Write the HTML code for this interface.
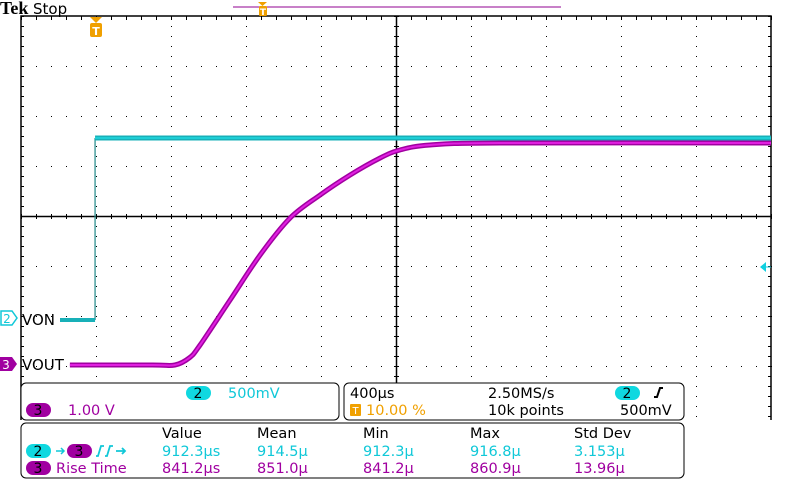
<!DOCTYPE html>
<html><head><meta charset="utf-8"><style>
body{margin:0;background:#fff;width:800px;height:480px;overflow:hidden;font-family:"DejaVu Sans","Liberation Sans",sans-serif;}
svg{position:absolute;left:0;top:0}
</style></head><body>
<svg width="800" height="480" xmlns="http://www.w3.org/2000/svg" font-family="DejaVu Sans, Liberation Sans, sans-serif">
<g id="grid"></g>
<g id="traces"></g>
<text x="0" y="14" font-family="Liberation Serif" font-weight="bold" font-size="18">Tek</text>
<text x="33" y="14" font-size="15">Stop</text>
<line x1="233" y1="7" x2="561" y2="7" stroke="#900090" stroke-width="1"/>
<g><path d="M258 2h9l-4.5 4z" fill="#f0a000"/><rect x="259" y="6" width="8" height="10" rx="1" fill="#f0a000"/><text x="263" y="15" font-size="9" fill="#fff" text-anchor="middle" font-weight="bold">T</text></g>
<g><path d="M90 17h12l-6 6z" fill="#f0a000"/><rect x="90" y="23" width="12" height="14" rx="2" fill="#f0a000"/><text x="96" y="35" font-size="11" fill="#fff" text-anchor="middle" font-weight="bold">T</text></g>
<g><path d="M1 311h11l5 7l-5 7h-11z" fill="#fff" stroke="#10c8d8" stroke-width="1.5"/><text x="7" y="323" font-size="12" fill="#10c8d8" text-anchor="middle">2</text></g>
<text x="22" y="325" font-size="15">VON</text>
<g><path d="M0 357h12l5 7l-5 7h-12z" fill="#a000a0"/><text x="6" y="369" font-size="12" fill="#fff" text-anchor="middle">3</text></g>
<text x="22" y="370" font-size="15">VOUT</text>
<path d="M760 267l6-5v10z" fill="#10d0e0"/>
<line x1="766" y1="267" x2="771" y2="267" stroke="#10d0e0"/>

<g>
<rect x="21" y="383" width="318" height="37" rx="5" fill="#fff" stroke="#000"/>
<rect x="186" y="386" width="25" height="14" rx="7" fill="#10d8e0"/><text x="198" y="398" font-size="14" text-anchor="middle">2</text>
<text x="228" y="398" font-size="14.5" fill="#10c8d8">500mV</text>
<rect x="26" y="403" width="25" height="14" rx="7" fill="#a000a0"/><text x="38" y="415" font-size="14" text-anchor="middle">3</text>
<text x="68" y="415" font-size="14.5" fill="#a000a0">1.00 V</text>
</g>
<g>
<rect x="344" y="383" width="340" height="37" rx="5" fill="#fff" stroke="#000"/>
<text x="350" y="398" font-size="14.5">400µs</text>
<text x="488" y="398" font-size="14.5">2.50MS/s</text>
<rect x="615" y="386" width="25" height="14" rx="7" fill="#10d8e0"/><text x="627" y="398" font-size="14" text-anchor="middle">2</text>
<path d="M654 397h3l3-9h3" fill="none" stroke="#000" stroke-width="2"/>
<rect x="350" y="404" width="11" height="12" rx="1" fill="#f0a000"/><text x="355.5" y="414" font-size="10" fill="#fff" text-anchor="middle">T</text>
<text x="366" y="415" font-size="14.5" fill="#f0a000">10.00 %</text>
<text x="488" y="415" font-size="14.5">10k points</text>
<text x="620" y="415" font-size="14.5">500mV</text>
</g>
<g>
<rect x="21" y="423" width="663" height="55" rx="5" fill="#fff" stroke="#000"/>
<g font-size="14.5">
<text x="162" y="438">Value</text><text x="257" y="438">Mean</text><text x="363" y="438">Min</text><text x="470" y="438">Max</text><text x="574" y="438">Std Dev</text>
<rect x="26" y="444" width="25" height="14" rx="7" fill="#10d8e0"/><text x="38" y="456" font-size="14" text-anchor="middle">2</text>
<path d="M56 451h8M61 448l3 3l-3 3" stroke="#10c8d8" stroke-width="1.5" fill="none"/>
<rect x="67" y="444" width="25" height="14" rx="7" fill="#a000a0"/><text x="79" y="456" font-size="14" text-anchor="middle">3</text>
<path d="M96 456h2l3-10h3M105 456h2l3-10h3M116 451h9M122 448l3 3l-3 3" stroke="#10c8d8" stroke-width="1.8" fill="none"/>
<g fill="#10c8d8"><text x="162" y="456">912.3µs</text><text x="257" y="456">914.5µ</text><text x="363" y="456">912.3µ</text><text x="470" y="456">916.8µ</text><text x="574" y="456">3.153µ</text></g>
<rect x="26" y="461" width="25" height="14" rx="7" fill="#a000a0"/><text x="38" y="473" font-size="14" text-anchor="middle">3</text>
<g fill="#a000a0"><text x="56" y="473">Rise Time</text><text x="162" y="473">841.2µs</text><text x="257" y="473">851.0µ</text><text x="363" y="473">841.2µ</text><text x="470" y="473">860.9µ</text><text x="574" y="473">13.96µ</text></g>
</g></g>
</svg>
<script>
// time in µs from left edge of screen; voltages in volts
const vonLowTimes=[208,395];
const vonHighTimes=[395,4000];
const vonLow=0;
const vonHigh=1.82;
const voutTimes=[261,700,821,900,955,1115,1275,1435,1595,1755,1915,2021,2181,2555,4000];
const voutVolts=[0,0,0,0.15,0.4,1.3,2.2,2.94,3.4,3.8,4.14,4.3,4.4,4.44,4.44];
const L=21,T=16,DX=75,DY=50;
const xS=t=>L+t/400*DX;
const ch2Y=v=>320-v/0.5*DY;
const ch3Y=v=>365-v/1.0*DY;
const NS="http://www.w3.org/2000/svg";
function mk(tag,at,parent){const e=document.createElementNS(NS,tag);for(const k in at)e.setAttribute(k,at[k]);parent.appendChild(e);return e;}
const g=document.getElementById('grid');
let d='';
for(let i=1;i<10;i++){if(i==5)continue;const x=L+i*DX;for(let y=T;y<=416;y+=10)d+=`M${x} ${y}h1v1h-1z`;}
for(let j=1;j<8;j++){if(j==4)continue;const y=T+j*DY;for(let x=L;x<=771;x+=15)d+=`M${x} ${y}h1v1h-1z`;}
for(let x=L;x<=771;x+=15){d+=`M${x} ${T}h1v4h-1zM${x} 214h1v5h-1z`;}
for(let y=T;y<=416;y+=10){d+=`M${L} ${y}h3v1h-3zM768 ${y}h3v1h-3zM394 ${y}h5v1h-5z`;}
const dots=mk('path',{d:d,fill:'#000'},g);


const frame=mk('path',{d:`M${L} 420V${T}H771V420M${L} 216.5H771M396.5 ${T}V420`,stroke:'#000','stroke-width':1.5,fill:'none'},g);


const tr=document.getElementById('traces');
function smooth(ts,vs,yf){
  const P=ts.map((t,i)=>[xS(t),yf(vs[i])]);
  let s=`M${P[0][0].toFixed(1)} ${P[0][1].toFixed(1)}`;
  for(let i=0;i<P.length-1;i++){
    const p0=P[Math.max(0,i-1)],p1=P[i],p2=P[i+1],p3=P[Math.min(P.length-1,i+2)];
    const c1=[p1[0]+(p2[0]-p0[0])/6,p1[1]+(p2[1]-p0[1])/6];
    const c2=[p2[0]-(p3[0]-p1[0])/6,p2[1]-(p3[1]-p1[1])/6];
    s+=`C${c1[0].toFixed(1)} ${c1[1].toFixed(1)} ${c2[0].toFixed(1)} ${c2[1].toFixed(1)} ${p2[0].toFixed(1)} ${p2[1].toFixed(1)}`;
  }
  return s;
}
const s2=mk('line',{x1:xS(vonLowTimes[1]),y1:ch2Y(vonLow),x2:xS(vonHighTimes[0]),y2:ch2Y(vonHigh),stroke:'#208888','stroke-width':1.2},tr);


const lo=mk('line',{x1:xS(vonLowTimes[0]),y1:ch2Y(vonLow),x2:xS(vonLowTimes[1]),y2:ch2Y(vonLow),stroke:'#18b0b8','stroke-width':4},tr);


const hi=mk('line',{x1:xS(vonHighTimes[0]),y1:ch2Y(vonHigh),x2:xS(vonHighTimes[1]),y2:ch2Y(vonHigh),stroke:'#18b0b8','stroke-width':5},tr);


const hi2=mk('line',{x1:xS(vonHighTimes[0]),y1:ch2Y(vonHigh),x2:xS(vonHighTimes[1]),y2:ch2Y(vonHigh),stroke:'#20d8e0','stroke-width':1.5},tr);


const c3=mk('path',{d:smooth(voutTimes,voutVolts,ch3Y),stroke:'#a000a0','stroke-width':5,fill:'none'},tr);


const c3b=mk('path',{d:smooth(voutTimes,voutVolts,ch3Y),stroke:'#e020e0','stroke-width':2,fill:'none'},tr);


</script>
</body></html>
